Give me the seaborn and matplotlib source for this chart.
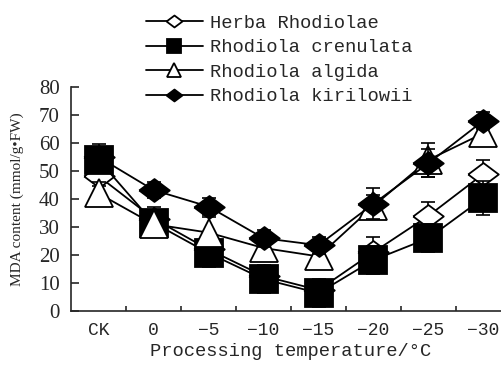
import numpy as np
import pandas as pd
import seaborn as sns
import matplotlib.pyplot as plt

# data
temps = ["CK", "0", "\u22125", "\u221210", "\u221215", "\u221220", "\u221225", "\u221230"]
herba = [48.2, 33.0, 22.0, 12.5, 7.5, 21.0, 34.0, 49.0]
herba_sd = [3.5, 4.0, 3.5, 3.5, 3.5, 5.5, 5.0, 5.0]
crenulata = [54.0, 31.5, 20.7, 11.4, 6.4, 18.2, 26.0, 40.4]
crenulata_sd = [4.5, 4.0, 5.0, 5.0, 5.0, 5.0, 5.0, 6.0]
algida = [42.0, 31.0, 28.0, 22.5, 19.5, 37.5, 54.0, 63.5]
algida_sd = [4.0, 3.5, 5.5, 3.5, 4.0, 4.0, 6.0, 4.5]
kirilowii = [55.0, 43.2, 37.3, 26.0, 23.5, 38.3, 52.8, 68.0]
kirilowii_sd = [4.5, 3.0, 3.0, 3.0, 3.0, 5.5, 5.0, 3.0]

names = ["Herba Rhodiolae", "Rhodiola crenulata", "Rhodiola algida", "Rhodiola kirilowii"]

sns.set_style("ticks")
plt.rcParams['font.family'] = ['Liberation Mono', 'DejaVu Sans']
plt.rcParams['axes.unicode_minus'] = True

fig = plt.figure(figsize=(5.02, 3.65), dpi=100)
ax = fig.add_axes([71 / 502, 54 / 365, 440 / 502, 224 / 365])

x = np.arange(len(temps))
diamond = [(-1, 0), (0, 0.75), (1, 0), (0, -0.75), (-1, 0)]
series = [
    (herba, herba_sd, diamond, "white", 22),
    (crenulata, crenulata_sd, "s", "black", 20),
    (algida, algida_sd, "^", "white", 20),
    (kirilowii, kirilowii_sd, diamond, "black", 22),
]

handles = []
for i, (vals, sd, mk, fc, ms) in enumerate(series):
    df = pd.DataFrame({"x": x, "y": vals})
    ax.errorbar(x, vals, yerr=sd, fmt="none", ecolor="black", elinewidth=1.2,
                capsize=5, capthick=1.2, zorder=2 + 2 * i)
    sns.lineplot(data=df, x="x", y="y", ax=ax, color="black", lw=1.3,
                 marker=mk, markersize=ms, markerfacecolor=fc,
                 markeredgecolor="black", markeredgewidth=1.3,
                 zorder=3 + 2 * i)
    h, = ax.plot([], [], color="black", lw=1.3, marker=mk, markersize=ms * 0.52,
                 markerfacecolor=fc, markeredgecolor="black", markeredgewidth=1.3)
    handles.append(h)

ax.set_xlim(-0.5, 7.5)
ax.set_ylim(0, 80)
ax.set_yticks(range(0, 81, 10))
ax.set_xticks(x)
ax.set_xticklabels(temps)
ax.set_xticks(x[:-1] + 0.5, minor=True)
ax.tick_params(axis="x", which="major", length=0, labelsize=13, pad=8)
ax.tick_params(axis="x", which="minor", direction="in", length=3.6, width=1.2)
ax.tick_params(axis="y", direction="in", length=5.5, width=1.2, labelsize=13, pad=8)
for lab in ax.get_yticklabels():
    lab.set_family("Liberation Serif")
    lab.set_fontsize(15)

ax.spines["top"].set_visible(False)
ax.spines["right"].set_visible(False)
ax.spines["left"].set_linewidth(1.2)
ax.spines["bottom"].set_linewidth(1.2)

ax.set_xlabel("Processing temperature/\u00b0C", fontsize=13.5, labelpad=3)
ax.set_ylabel("MDA content (mmol/g\u2022FW)", fontsize=11, family="Liberation Serif", labelpad=11)

leg = fig.legend(handles, names, loc="upper left", bbox_to_anchor=(137 / 502, 1 - 5 / 365),
                 frameon=False, fontsize=13.5, handlelength=3.0, handletextpad=0.4,
                 labelspacing=0.4, borderaxespad=0.1)

fig.savefig("out.png", dpi=100)
